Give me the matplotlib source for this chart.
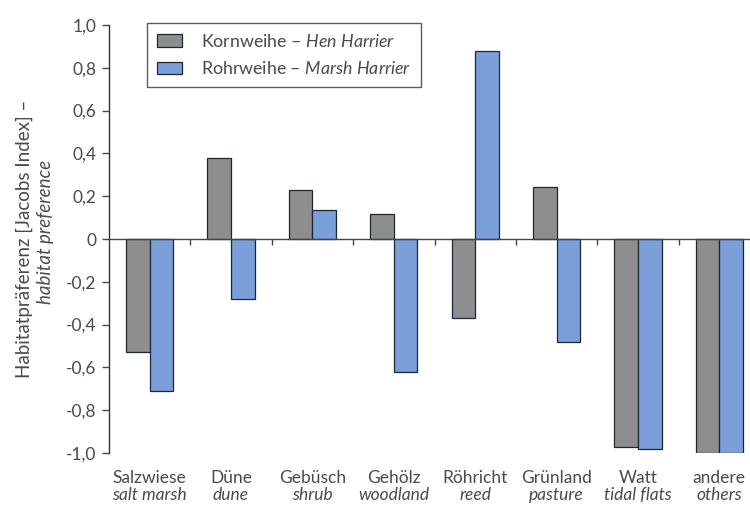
import matplotlib
matplotlib.use("Agg")
import matplotlib.pyplot as plt
import numpy as np

cats_de = ["Salzwiese", "Düne", "Gebüsch", "Gehölz", "Röhricht", "Grünland", "Watt", "andere"]
cats_en = ["salt marsh", "dune", "shrub", "woodland", "reed", "pasture", "tidal flats", "others"]
kornweihe = [-0.53, 0.38, 0.23, 0.117, -0.37, 0.243, -0.97, -1.0]
rohrweihe = [-0.71, -0.28, 0.135, -0.62, 0.88, -0.48, -0.98, -1.0]
yticks = [1.0, 0.8, 0.6, 0.4, 0.2, 0.0, -0.2, -0.4, -0.6, -0.8, -1.0]
ytick_labels = ["1,0", "0,8", "0,6", "0,4", "0,2", "0", "-0,2", "-0,4", "-0,6", "-0,8", "-1,0"]

plt.rcParams['font.family'] = ['Lato', 'DejaVu Sans']
plt.rcParams['mathtext.fontset'] = 'custom'
plt.rcParams['mathtext.rm'] = 'Lato'
plt.rcParams['mathtext.it'] = 'Lato:italic'
txt = '#4a4a4a'
gray = '#8e8e8e'
blue = '#7b9fd8'
edge = '#1c2738'

W, H = 750, 505
fig = plt.figure(figsize=(W / 100, H / 100), dpi=100)
left, right = 109, 760
top, bottom = 25, 453
ax = fig.add_axes([left / W, 1 - bottom / H, (right - left) / W, (bottom - top) / H])

n = len(cats_de)
x = np.arange(n)
bw = 0.29
ax.bar(x - bw / 2, kornweihe, bw, color=gray, edgecolor=edge, linewidth=0.9,
       label="Kornweihe – $\\mathit{Hen\\ Harrier}$", zorder=2)
ax.bar(x + bw / 2, rohrweihe, bw, color=blue, edgecolor=edge, linewidth=0.9,
       label="Rohrweihe – $\\mathit{Marsh\\ Harrier}$", zorder=2)

ax.set_xlim(-0.5, n - 0.5)
ax.set_ylim(-1.0, 1.0)
ax.set_yticks(yticks)
ax.set_yticklabels(ytick_labels, fontsize=12.5, color=txt)
ax.tick_params(axis='y', direction='out', length=5, width=1, colors=txt, pad=4)
for s in ['top', 'right']:
    ax.spines[s].set_visible(False)
ax.spines['left'].set_color('#333333')
ax.spines['left'].set_linewidth(1.0)
ax.spines['bottom'].set_position(('data', 0))
ax.spines['bottom'].set_color('#444444')
ax.spines['bottom'].set_linewidth(1.0)
ax.spines['bottom'].set_zorder(3)
ax.set_xticks(np.arange(0.5, n - 0.5, 1.0))
ax.set_xticklabels([])
ax.tick_params(axis='x', direction='out', length=4, width=1, colors='#444444')

trans = matplotlib.transforms.blended_transform_factory(ax.transData, fig.transFigure)
for i in range(n):
    ax.text(i, 1 - 478 / H, cats_de[i], transform=trans, ha='center', va='center',
            fontsize=12.5, color=txt)
    ax.text(i, 1 - 495 / H, cats_en[i], transform=trans, ha='center', va='center',
            fontsize=12.5, color=txt, style='italic')

fig.text(24 / W, 1 - 239 / H, "Habitatpräferenz [Jacobs Index] –", rotation=90,
         ha='center', va='center', fontsize=13.5, color=txt)
fig.text(45 / W, 1 - 232 / H, "habitat preference", rotation=90,
         ha='center', va='center', fontsize=13.5, color=txt, style='italic')

leg = ax.legend(loc='upper left', bbox_to_anchor=((147 - left) / (right - left), 1.005),
                frameon=True, fancybox=False, fontsize=12.8, handlelength=1.4,
                handleheight=0.7, borderpad=0.55, labelspacing=0.6, handletextpad=1.1,
                borderaxespad=0)
leg.get_frame().set_edgecolor('#333333')
leg.get_frame().set_linewidth(1.0)
for t in leg.get_texts():
    t.set_color(txt)

fig.savefig("out.png", dpi=100)
